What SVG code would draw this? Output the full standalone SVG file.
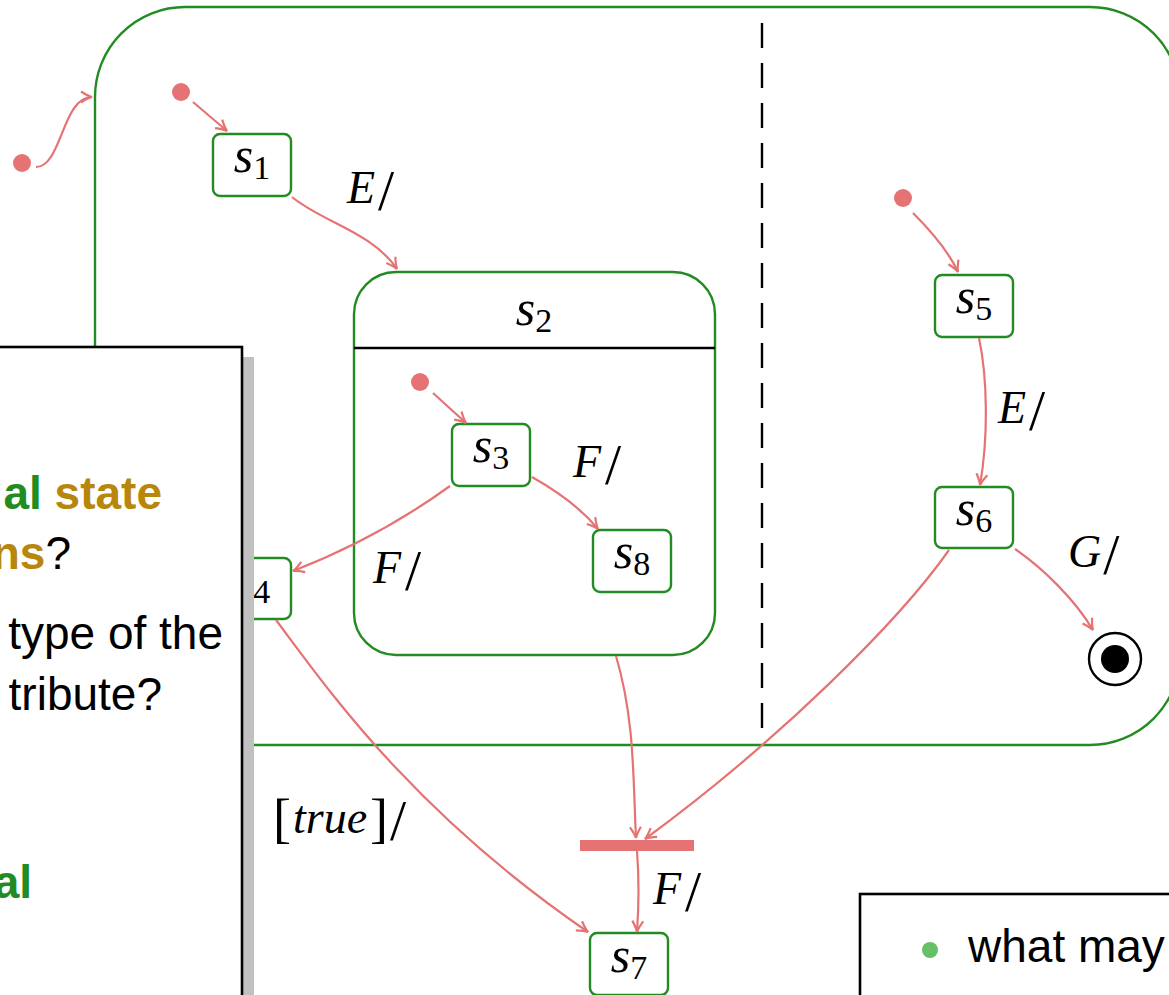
<svg xmlns="http://www.w3.org/2000/svg" width="1169" height="995" viewBox="0 0 1169 995">
<style>
.st{fill:#fff;stroke:#228b22;stroke-width:2.4}
.cn{fill:none;stroke:#e67373;stroke-width:2.2;marker-end:url(#arr)}
.ini{fill:#e67373}
.nl{font-family:"Liberation Serif",serif;font-size:50px;fill:#000}
.nl .v{font-style:italic}
.nl .sub{font-size:34px}
.lb{font-family:"Liberation Serif",serif;font-size:46px;fill:#000}
.lb .v{font-style:italic}
.lb .sl{font-size:58px}
.lb .br{font-size:54px}
.tx{font-family:"Liberation Sans",Arial,sans-serif;font-size:46px;fill:#000}
.g{fill:#228b22;font-weight:bold}
.o{fill:#b8860b;font-weight:bold}
</style>
<defs>
<marker id="arr" viewBox="-14 -8 16 16" refX="0" refY="0" markerWidth="16" markerHeight="16" markerUnits="userSpaceOnUse" orient="auto">
<path d="M-11,-5.5 Q-4,-1 0,0 Q-4,1 -11,5.5" fill="none" stroke="#e67373" stroke-width="2.2"/>
</marker>
</defs>

<g id="outer">
<rect x="95" y="7" width="1085" height="738" rx="90" ry="90" fill="none" stroke="#228b22" stroke-width="2.4"/>
<line x1="762" y1="23" x2="762" y2="728" stroke="#000" stroke-width="2.4" stroke-dasharray="25 15"/>
</g>

<g id="s1">
<rect class="st" x="213" y="134" width="78" height="62" rx="7"/>
<text class="nl" x="252" y="172" text-anchor="middle"><tspan class="v">s</tspan><tspan class="sub" dy="7">1</tspan></text>
</g>

<g id="s2">
<rect class="st" x="354" y="272" width="361" height="383" rx="42"/>
<line x1="354" y1="348" x2="715" y2="348" stroke="#000" stroke-width="2.6"/>
<text class="nl" x="534" y="325" text-anchor="middle"><tspan class="v">s</tspan><tspan class="sub" dy="7">2</tspan></text>
</g>

<g id="s3">
<rect class="st" x="452" y="424" width="78" height="62" rx="7"/>
<text class="nl" x="491" y="462" text-anchor="middle"><tspan class="v">s</tspan><tspan class="sub" dy="7">3</tspan></text>
</g>

<g id="s8">
<rect class="st" x="593" y="530" width="78" height="62" rx="7"/>
<text class="nl" x="632" y="568" text-anchor="middle"><tspan class="v">s</tspan><tspan class="sub" dy="7">8</tspan></text>
</g>

<g id="s4">
<rect class="st" x="213" y="558" width="78" height="61" rx="7"/>
<text class="nl" x="252" y="596" text-anchor="middle"><tspan class="v">s</tspan><tspan class="sub" dy="7">4</tspan></text>
</g>

<g id="s5">
<rect class="st" x="935" y="275" width="78" height="62" rx="7"/>
<text class="nl" x="974" y="313" text-anchor="middle"><tspan class="v">s</tspan><tspan class="sub" dy="7">5</tspan></text>
</g>

<g id="s6">
<rect class="st" x="935" y="487" width="78" height="61" rx="7"/>
<text class="nl" x="974" y="525" text-anchor="middle"><tspan class="v">s</tspan><tspan class="sub" dy="7">6</tspan></text>
</g>

<g id="s7">
<rect class="st" x="590" y="933" width="78" height="62" rx="7"/>
<text class="nl" x="629" y="972" text-anchor="middle"><tspan class="v">s</tspan><tspan class="sub" dy="7">7</tspan></text>
</g>

<g id="final">
<circle cx="1115" cy="659" r="26" fill="#fff" stroke="#000" stroke-width="2.4"/>
<circle cx="1115" cy="659" r="14" fill="#000"/>
</g>

<g id="fork">
<rect x="580" y="840" width="114" height="11" fill="#e67373"/>
</g>

<g id="init0"><circle class="ini" cx="22" cy="163" r="9"/></g>
<g id="init1"><circle class="ini" cx="181" cy="92" r="9"/></g>
<g id="init2"><circle class="ini" cx="420" cy="382" r="9"/></g>
<g id="init3"><circle class="ini" cx="903" cy="198" r="9"/></g>

<g id="connectors">
<path class="cn" d="M36,167 C62,167 62,97 92,97"/>
<path class="cn" d="M193,102 L227,131"/>
<path class="cn" d="M292,197 C322,222 372,232 397,269"/>
<path class="cn" d="M433,393 L466,423"/>
<path class="cn" d="M532,477 C555,490 580,507 598,529"/>
<path class="cn" d="M450,486 C410,515 360,545 293,571"/>
<path class="cn" d="M276,620 C325,685 410,810 588,932"/>
<path class="cn" d="M616,656 C635,720 633,780 636,838"/>
<path class="cn" d="M949,550 C900,620 780,740 645,839"/>
<path class="cn" d="M637,851 Q640,890 637,932"/>
<path class="cn" d="M979,338 C988,380 988,440 980,485"/>
<path class="cn" d="M913,213 C930,230 948,250 958,272"/>
<path class="cn" d="M1015,549 C1045,570 1075,600 1093,630"/>
</g>

<g id="labels">
<text class="lb" x="347" y="203"><tspan class="v">E</tspan><tspan class="sl" dx="3" dy="7">/</tspan></text>
<text class="lb" x="573" y="477"><tspan class="v">F</tspan><tspan class="sl" dx="4" dy="7">/</tspan></text>
<text class="lb" x="373" y="583"><tspan class="v">F</tspan><tspan class="sl" dx="4" dy="7">/</tspan></text>
<text class="lb" x="998" y="423"><tspan class="v">E</tspan><tspan class="sl" dx="3" dy="7">/</tspan></text>
<text class="lb" x="1068" y="567"><tspan class="v">G</tspan><tspan class="sl" dx="2" dy="7">/</tspan></text>
<text class="lb" x="273" y="833"><tspan class="br" dy="4">[</tspan><tspan class="v" dx="2" dy="-4">true</tspan><tspan class="br" dx="3" dy="4">]</tspan><tspan class="sl" dx="2" dy="3">/</tspan></text>
<text class="lb" x="653" y="904"><tspan class="v">F</tspan><tspan class="sl" dx="4" dy="7">/</tspan></text>
</g>

<g id="panel">
<rect x="242" y="357" width="12" height="700" fill="#c0c0c0"/>
<rect x="-10" y="347" width="252" height="700" fill="#fff" stroke="#000" stroke-width="2.6"/>
<text class="tx" x="162" y="509" text-anchor="end"><tspan class="g">al </tspan><tspan class="o">state</tspan></text>
<text class="tx" x="71" y="569" text-anchor="end"><tspan class="o">ons</tspan>?</text>
<text class="tx" x="223" y="649" text-anchor="end">type of the</text>
<text class="tx" x="162" y="710" text-anchor="end">tribute?</text>
<text class="tx" x="32" y="898" text-anchor="end"><tspan class="g">al</tspan></text>
</g>

<g id="legend">
<rect x="860" y="894" width="400" height="200" fill="#fff" stroke="#000" stroke-width="2.6"/>
<circle cx="930" cy="950" r="8" fill="#66c066"/>
<text class="tx" x="968" y="962">what may</text>
</g>
</svg>
